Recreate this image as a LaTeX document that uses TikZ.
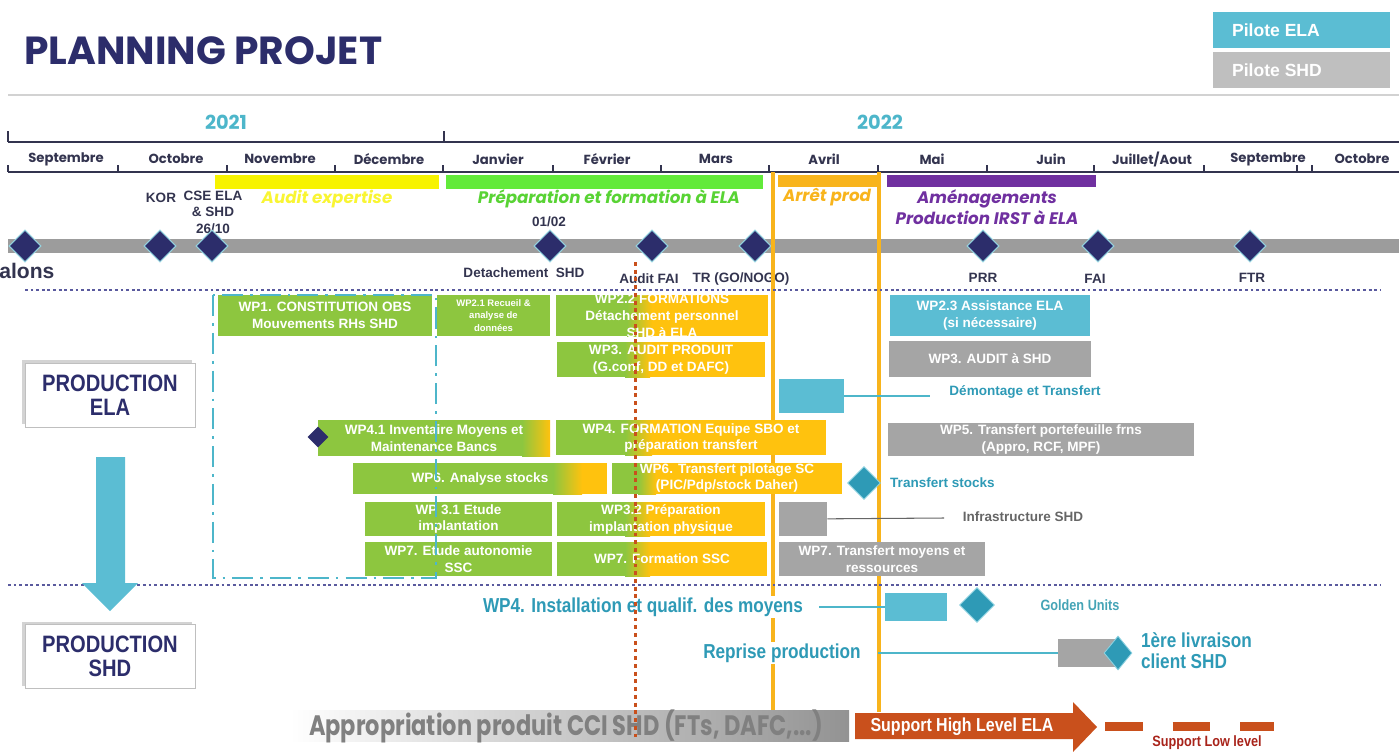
\documentclass[tikz,border=0pt]{standalone}
\usepackage{fontspec}
\setmainfont{Liberation Sans}
\newfontfamily\gothic{Poppins}
\newfontfamily\gothicserre[FakeStretch=0.8]{Poppins}
\newfontfamily\etroit[FakeStretch=0.85]{Liberation Sans}
\usetikzlibrary{shapes.geometric,shadows,fit}

\definecolor{marine}{HTML}{2C2D6B}
\definecolor{ardoise}{HTML}{33344F}
\definecolor{turquoise}{HTML}{4DB6CA}
\definecolor{bleuela}{HTML}{5BBDD3}
\definecolor{bleufonce}{HTML}{2E9AB6}
\definecolor{grisshd}{HTML}{A5A5A5}
\definecolor{grislegende}{HTML}{BFBFBF}
\definecolor{vertwp}{HTML}{8DC63F}
\definecolor{orwp}{HTML}{FFC20E}
\definecolor{jaune}{HTML}{F7F300}
\definecolor{vertvif}{HTML}{62EA3A}
\definecolor{orligne}{HTML}{F8B41C}
\definecolor{violet}{HTML}{7030A0}
\definecolor{brique}{HTML}{C9501C}
\definecolor{bordeaux}{HTML}{A8231A}
\definecolor{pointille}{HTML}{5A5A9E}

\tikzset{
	tache/.style={text=white, font=\fontsize{7.7}{9.6}\selectfont\bfseries, align=center, inner sep=0pt},
	minitache/.style={tache, font=\fontsize{5.4}{7}\selectfont\bfseries},
	boite/.style={inner sep=0pt, fill=#1},
	mois/.style={font=\gothic\fontsize{7.5}{9}\selectfont\bfseries, text=ardoise},
	annee/.style={font=\gothic\fontsize{11}{13}\selectfont\bfseries, text=turquoise},
	phase/.style={font=\gothic\fontsize{9.5}{12}\selectfont\bfseries\itshape, text=#1, align=center},
	jalon/.style={diamond, fill=marine, draw=turquoise!60, line width=0.6pt, minimum size=0.64cm, inner sep=0pt},
	jalontxt/.style={font=\fontsize{7.7}{9.4}\selectfont\bfseries, text=ardoise, align=center},
	jalonbleu/.style={diamond, fill=bleufonce, draw=bleuela!70, line width=0.5pt, inner sep=0pt, minimum size=0.66cm},
	prod/.style={draw=gray!50, fill=white, drop shadow={shadow xshift=-1.5pt, shadow yshift=1.5pt, opacity=0.35}, font=\etroit\fontsize{13.5}{13.6}\selectfont\bfseries, text=marine, align=center, minimum width=3.4cm, minimum height=1.28cm},
	legtxt/.style={font=\fontsize{7.7}{9.4}\selectfont\bfseries},
	bleutxt/.style={font=\etroit\fontsize{11.5}{12}\selectfont\bfseries, text=bleufonce, fill=white, inner sep=1pt},
	lien/.style={draw=#1, line width=0.6pt},
	legende/.style={font=\fontsize{10}{12}\selectfont\bfseries, text=white, anchor=west},
	verticale/.style={orligne, line width=2.3pt},
	points/.style={pointille, line width=1.5pt, dash pattern=on 1.6pt off 1.6pt},
}

\begin{document}
\begin{tikzpicture}[x=0.02cm, y=-0.02cm]
	\useasboundingbox (0,0) rectangle (1399,751);

	% titre et legende
		\node[anchor=west, font=\gothic\fontsize{22.3}{24}\selectfont\bfseries, text=marine, inner sep=0pt] (titre) at (24,51) {PLANNING PROJET};
		\node[boite=bleuela, fit={(1213,12) (1390,48)}] (pela) {};
		\node[legende] (pelat) at ([xshift=7.5pt]pela.west) {Pilote ELA};
		\node[boite=grislegende, fit={(1213,52) (1390,88)}] (pshd) {};
		\node[legende] (pshdt) at ([xshift=7.5pt]pshd.west) {Pilote SHD};
		\draw[gray!35, line width=1.5pt] (8,95) -- (1399,95);

	% annees et mois
		\draw[ardoise, line width=1.1pt] (8,142) -- (1399,142);
		\draw[ardoise, line width=1pt] (8,131) -- (8,142) (444,131) -- (444,142);
		\node[annee] (a2021) at (226,122) {2021};
		\node[annee] (a2022) at (880,122) {2022};
		\draw[ardoise, line width=1.1pt] (8,172) -- (1399,172);
		\foreach \x in {8,118,227,335,443,553,661,769,878,987,1094,1204,1297,1312}
			\draw[ardoise, line width=1pt] (\x,165) -- (\x,172);
		\foreach \x/\m in {66/Septembre,176/Octobre,280/Novembre,389/Décembre,498/Janvier,607/Février,716/Mars,824/Avril,932/Mai,1051/Juin,1152/{Juillet/Aout},1268/Septembre,1362/Octobre}
			\node[mois] (m\x) at (\x,159) {\m};

	% phases
		\fill[jaune] (215,175) rectangle (439,189);
		\fill[vertvif] (446,175) rectangle (763,189);
		\fill[orligne] (778,175) rectangle (877,187);
		\fill[violet] (887,175) rectangle (1096,187);
		\node[phase=jaune!80!white] (paudit) at (327,199) {Audit expertise};
		\node[phase=vertvif!90!black] (pprep) at (609,199) {Préparation et formation à ELA};
		\node[phase=orligne] (parret) at (827,197) {Arrêt prod};
		\node[phase=violet] (pamen) at (987,207) {Aménagements\\Production IRST à ELA};

	% jalons
		\fill[gray!78] (8,239) rectangle (1399,253);
		\node[anchor=west, font=\fontsize{12}{14}\selectfont\bfseries, text=ardoise, inner sep=0pt] (jalons) at (-1,271) {alons};
		\node[jalontxt] (lkor) at (161,198) {KOR};
		\node[jalontxt] (lcse) at (213,212) {CSE ELA\\\& SHD\\26/10};
		\node[jalontxt] (l0102) at (549,222) {01/02};
		\node[jalontxt] (ldet) at (524,273) {Detachement\ \ SHD};
		\node[jalontxt] (laudit) at (649,279) {Audit FAI};
		\node[jalontxt] (ltr) at (741,279) {TR (GO/NOGO)};
		\node[jalontxt] (lprr) at (983,278) {PRR};
		\node[jalontxt] (lfai) at (1095,279) {FAI};
		\node[jalontxt] (lftr) at (1252,278) {FTR};
		\foreach \x/\n in {25/j0,160/jkor,212/jcse,550/jdet,652/jaudit,755/jtr,983/jprr,1098/jfai,1250/jftr}
			\node[jalon] (\n) at (\x,246) {};

	% lignes de l'arret
		\draw[verticale] (773,172) -- (773,712);
		\draw[verticale] (879,172) -- (879,712);
		\draw[points] (25,290) -- (1380,290);
		\draw[points] (8,585) -- (1380,585);

	% production ELA
		\node[boite=vertwp, fit={(218,295) (432,336)}] (wp1) {};
		\node[tache] (wp1t) at (wp1) {WP1. CONSTITUTION OBS\\Mouvements RHs SHD};
		\node[boite=vertwp, fit={(437,295) (550,336)}] (wp21) {};
		\node[minitache] (wp21t) at (wp21) {WP2.1 Recueil \&\\analyse de\\données};
		\fill[orwp] (556,295) rectangle (768,336);
		\fill[vertwp] (556,295) rectangle (628,336);
		\shade[left color=vertwp, right color=orwp] (627,295) rectangle (652,336);
		\node[tache] (wp22) at (662,316) {WP2.2 FORMATIONS\\Détachement personnel\\SHD à ELA};
		\node[boite=bleuela, fit={(890,295) (1090,336)}] (wp23) {};
		\node[tache] (wp23t) at (wp23) {WP2.3 Assistance ELA\\(si nécessaire)};

		\fill[orwp] (557,342) rectangle (765,377);
		\fill[vertwp] (557,342) rectangle (626,377);
		\shade[left color=vertwp, right color=orwp] (625,342) rectangle (650,377);
		\node[tache] (wp3p) at (661,360) {WP3. AUDIT PRODUIT\\(G.conf, DD et DAFC)};
		\node[boite=grisshd, fit={(889,341) (1091,377)}] (wp3s) {};
		\node[tache] (wp3st) at (wp3s) {WP3. AUDIT à SHD};

		\node[boite=bleuela, fit={(779,379) (844,413)}] (demont) {};
		\coordinate (demontf) at (930,396);
		\draw[lien=turquoise] (demont) -- (demontf);
		\node[legtxt, text=bleufonce] (demontt) at (1025,392) {Démontage et Transfert};

		\fill[vertwp] (318,420) rectangle (550,456);
		\shade[left color=vertwp, right color=orwp] (522,420) rectangle (550,456);
		\node[tache] (wp41) at (434,438) {WP4.1 Inventaire Moyens et\\Maintenance Bancs};
		\node[jalon, draw=none, minimum size=0.42cm] (jwp41) at (318,437) {};
		\fill[orwp] (556,420) rectangle (826,455);
		\fill[vertwp] (556,420) rectangle (626,455);
		\shade[left color=vertwp, right color=orwp] (625,420) rectangle (652,455);
		\node[tache] (wp4f) at (691,438) {WP4. FORMATION Equipe SBO et\\préparation transfert};
		\node[boite=grisshd, fit={(888,423) (1194,456)}] (wp5) {};
		\node[tache] (wp5t) at (wp5) {WP5. Transfert portefeuille frns\\(Appro, RCF, MPF)};

		\fill[orwp] (353,463) rectangle (607,494);
		\fill[vertwp] (353,463) rectangle (554,494);
		\shade[left color=vertwp, right color=orwp] (553,463) rectangle (582,494);
		\node[tache] (wp6a) at (480,479) {WP6. Analyse stocks};
		\fill[orwp] (612,463) rectangle (842,494);
		\fill[vertwp] (612,463) rectangle (639,494);
		\shade[left color=vertwp, right color=orwp] (638,463) rectangle (656,494);
		\node[tache] (wp6t) at (727,478) {WP6. Transfert pilotage SC\\(PIC/Pdp/stock Daher)};
		\node[jalonbleu] (dstock) at (864,483) {};
		\node[legtxt, text=bleufonce, anchor=west] (tstock) at (884,483) {Transfert stocks};

		\node[boite=vertwp, fit={(365,502) (552,536)}] (wp31) {};
		\node[tache] (wp31t) at (wp31) {WP 3.1 Etude\\implantation};
		\fill[orwp] (557,502) rectangle (765,536);
		\fill[vertwp] (557,502) rectangle (626,536);
		\shade[left color=vertwp, right color=orwp] (625,502) rectangle (650,536);
		\node[tache] (wp32) at (661,519) {WP3.2 Préparation\\implantation physique};
		\node[boite=grisshd, fit={(779,502) (827,536)}] (infra) {};
		\coordinate (infraf) at (944,518);
		\draw[lien=gray!80!black] (infra) -- (infraf);
		\node[legtxt, text=gray!80!black] (infrat) at (1023,517) {Infrastructure SHD};

		\node[boite=vertwp, fit={(365,542) (552,576)}] (wp7e) {};
		\node[tache] (wp7et) at (wp7e) {WP7. Etude autonomie\\SSC};
		\fill[orwp] (557,542) rectangle (767,576);
		\fill[vertwp] (557,542) rectangle (626,576);
		\shade[left color=vertwp, right color=orwp] (625,542) rectangle (650,576);
		\node[tache] (wp7f) at (662,559) {WP7. Formation SSC};
		\node[boite=grisshd, fit={(779,542) (985,576)}] (wp7t) {};
		\node[tache] (wp7tt) at (wp7t) {WP7. Transfert moyens et\\ressources};

		\draw[turquoise, line width=1.6pt, dash pattern=on 12pt off 4pt on 1.5pt off 4pt] (213,295) rectangle (436,578);

	% ELA vers SHD
		\node[prod] (prodela) at (110,395) {PRODUCTION\\ELA};
		\node[prod] (prodshd) at (110,656.5) {PRODUCTION\\SHD};
		\fill[bleuela] (96,457) -- (125,457) -- (125,583) -- (138,583) -- (110,611) -- (82,583) -- (96,583) -- cycle;

	% production SHD
		\node[bleutxt] (wp4inst) at (643,607) {WP4. Installation et qualif. des moyens};
		\node[boite=bleuela, fit={(885,593) (947,621)}] (binst) {};
		\draw[lien=turquoise, shorten <=8pt] (wp4inst) -- (binst);
		\node[jalonbleu, minimum size=0.7cm] (dgolden) at (977,605) {};
		\node[font=\etroit\fontsize{8.5}{10}\selectfont\bfseries, text=turquoise!90!black] (golden) at (1080,605) {Golden Units};
		\node[bleutxt] (reprise) at (782,653) {Reprise production};
		\node[boite=grisshd, fit={(1058,639) (1120,667)}] (blivr) {};
		\draw[lien=turquoise, shorten <=8.5pt] (reprise) -- (blivr);
		\node[jalonbleu, minimum width=0.56cm, minimum height=0.68cm] (dlivr) at (1118,653) {};
		\node[bleutxt, fill=none, anchor=west, align=left] (livr) at (1139,651) {1ère livraison\\client SHD};

		\shade[left color=white, right color=gray!85] (290,710) rectangle (849,741);
		\node[font=\gothicserre\fontsize{16}{18}\selectfont\bfseries, text=gray] (appro) at (566,726) {Appropriation produit CCI SHD (FTs, DAFC,...)};
		\fill[brique] (855,713) -- (1073,713) -- (1073,702) -- (1097,727) -- (1073,752) -- (1073,739) -- (855,739) -- cycle;
		\node[font=\etroit\fontsize{10.7}{12}\selectfont\bfseries, text=white] (support) at (962,727) {Support High Level ELA};
		\draw[brique, line width=5pt, dash pattern=on 21.5pt off 17pt] (1105,726.5) -- (1274,726.5);
		\node[font=\etroit\fontsize{8.5}{10}\selectfont\bfseries, text=bordeaux] (lowlvl) at (1207,743) {Support Low level};

	% audit FAI
		\draw[brique, line width=1.7pt, dash pattern=on 2.2pt off 2.2pt] (635,262) -- (635,740);
\end{tikzpicture}
\end{document}
